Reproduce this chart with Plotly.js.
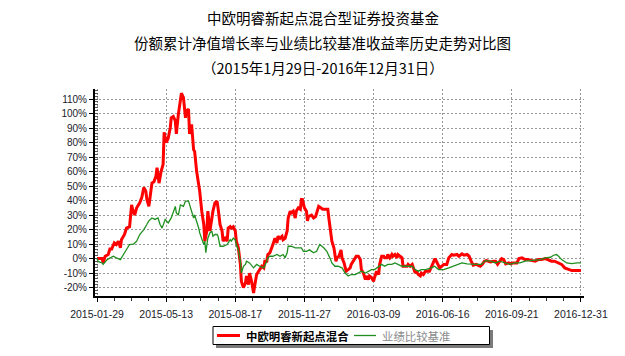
<!DOCTYPE html>
<html><head><meta charset="utf-8">
<script src="https://cdn.plot.ly/plotly-3.0.1.min.js"></script>
<style>html,body{margin:0;padding:0;background:#fff}#chart{width:625px;height:356px}</style>
</head><body><div id="chart"></div>
<script>
const titleLines = ['中欧明睿新起点混合型证券投资基金', '份额累计净值增长率与业绩比较基准收益率历史走势对比图', '（2015年1月29日-2016年12月31日）'];
const xTickIdx = [0, 68, 136, 204, 272, 340, 408, 476];
const xTickLabels = ['2015-01-29', '2015-05-13', '2015-08-17', '2015-11-27', '2016-03-09', '2016-06-16', '2016-09-21', '2016-12-31'];
const yTickVals = [-20, -10, 0, 10, 20, 30, 40, 50, 60, 70, 80, 90, 100, 110];
const yTickLabels = ['-20%', '-10%', '0%', '10%', '20%', '30%', '40%', '50%', '60%', '70%', '80%', '90%', '100%', '110%'];
const fundName = '中欧明睿新起点混合';
const benchName = '业绩比较基准';

// trading-day index and cumulative return (%)
const fundIdx = [0,5,6,8,11,13,14,17,19,21,23,24,27,29,32,34,35,37,39,42,44,46,48,49,51,54,56,58,59,61,63,65,66,68,70,72,73,75,77,78,80,82,83,85,87,88,90,91,93,95,96,98,100,101,103,105,106,108,109,111,113,114,116,118,119,121,123,124,126,128,129,131,132,134,136,137,139,141,142,144,146,147,149,150,152,154,155,157,159,160,162,164,165,167,168,170,172,173,175,177,178,180,182,183,185,187,188,190,191,193,195,196,198,200,201,202,204,206,207,208,211,213,215,218,220,222,224,227,228,230,231,233,235,236,238,240,241,243,245,247,249,250,252,255,257,259,260,262,264,265,267,268,270,272,273,275,277,278,280,282,283,285,286,288,290,291,293,295,296,298,300,301,303,305,306,308,310,311,313,314,316,318,319,321,323,324,327,330,332,333,335,337,339,341,344,346,349,351,354,356,359,361,364,366,368,370,373,377,379,381,383,387,390,392,394,396,398,400,402,405,407,409,413,415,418,421,424,428,431,434,437,441,444,447,450,454,457,460,464,467,470,473,476];
const fundPct = [0,0,-3,1.6,2.8,7.4,6,10.8,9.7,12,7.4,13,16.6,21,22,37,34,30,35,38.4,42,49,46.5,41,36,52,53,57,62.6,52,60,65,87,80,83,90,97,98,95,86,99.4,110,114,111,97,102,103,86,92.5,75,74,60,51,46.5,32.7,23.5,12,19,32.7,19,28,32.7,38.4,39.6,35,23.5,19,12,14,12,21,22,21,22,19,12,7.4,-4,-15.7,-20,-16.8,-12,-18,-10,-15.7,-23.7,-19,-11,-8.7,-7.6,-5.3,-6.4,-1.8,-1.8,2.8,4,7.4,9.7,14,10.8,15.4,14,15.4,13,14,19,28,32.7,31.5,32.7,28,32.7,35,34,40.7,40.7,35,32.7,26,29,30,28,29,36,35,34,34,34,28,19,12,7.4,-1.8,0.5,1.6,6,0.5,-3,-8.7,-7.6,-6.4,-4,-1.8,1.6,1.6,-0.7,-7.6,-10,-14.5,-12,-14.5,-12,-13,-15.7,-13,-8.7,-11,-4,1.6,1.6,0.5,0.5,2.8,0.5,2.8,1.6,2.8,0.5,2.8,1.6,0.5,-5.3,-5.3,-5.3,-4,-5.3,-4,-6.4,-10,-8.7,-11,-12,-10,-11,-8.7,-8.7,-8.7,-4,-0.7,-0.7,-4,-6.4,-5.3,-4,-4,0.5,2.8,2.3,2.8,1.6,3.2,2.3,2.8,1.6,-1.8,-4.6,-4,-5.3,-4,-1.8,-1.4,-2.3,-1.8,-1.8,-4,-1.8,0,-0.7,-3.7,-3,-3.7,-3,-3,0,0.5,-0.7,-0.7,-1.4,-1.8,-0.7,-0.7,0,-0.7,-1.8,-1.8,-3,-4,-6.4,-7.6,-8.3,-8.3,-8.3,-8.3];

const benchIdx = [0,1,5,6,10,13,16,19,23,26,29,32,36,39,42,46,49,51,54,57,60,62,64,67,70,73,77,78,80,82,85,87,90,91,93,95,96,98,100,101,103,105,106,107,109,111,113,114,116,118,119,121,124,128,131,132,134,136,137,139,141,142,144,146,147,150,154,157,160,164,167,168,170,173,177,180,183,185,187,188,191,195,198,201,203,206,209,213,216,219,223,226,229,231,234,237,241,244,247,250,254,257,260,264,267,270,273,277,280,283,286,290,293,296,300,303,306,310,313,316,319,323,329,332,336,341,346,350,355,359,364,368,373,378,382,387,392,396,401,406,411,416,421,426,431,436,441,446,449,452,454,457,462,467,472,476];
const benchPct = [0,-2,-3,-4,-0.7,0.5,1.6,0.5,-0.7,2.8,6,9.7,10,12,16.6,20,23.5,26,28,27,28,23.5,21,27,24.6,28,36,31.5,30,37,36,39.6,39.6,37,32.7,28,30,26,21,17.7,14,9.7,12,4,14,17.7,19,15.4,16.6,16.6,15.4,8.5,8.5,9.7,13,12,14,13,9.7,6,-1.8,-10,-5.3,-4,-1.8,-3,-6.4,-4,-5.3,-6.4,-1.8,0.5,1.6,1.6,2.8,1.6,2.8,0.5,4,8.5,8.5,7.4,7.4,7.4,5,5,6,4,5,9.7,7.4,5,0.5,-3,-5.3,-5.3,-6.4,-10,-12,-11,-11,-10,-8.7,-10,-8.7,-7.6,-7.6,-5.3,-4,-5.3,-4,-4,-3,-4,-5.3,-5.3,-5.3,-5.3,-7.6,-8.7,-7.6,-7.6,-6.4,-5.3,-7.6,-7.6,-6.4,-5.3,-4,-3,-3.7,-4,-4,-4,-1.4,-1.8,-3,-1.8,-3,-4,-3,-3,-1.8,-1.4,-0.7,-0.7,0.5,0.9,2.3,2.8,1.6,-0.7,-3,-3.5,-3,-3];

const fundColor = '#ff0000', benchColor = '#1f8f1f';

// plot-area pixel geometry
const W = 625, H = 356;
const plotL = 95, plotR = 584, plotT = 89, plotB = 296;
const pw = plotR - plotL, ph = plotB - plotT;
const px = v => (v - plotL) / pw;
const py = v => (plotB - v) / ph;

const cjk = '"Noto Sans CJK SC", "Noto Sans", sans-serif';
const arial = '"Liberation Sans", Arial, sans-serif';

const traces = [
  {x: fundIdx, y: fundPct, type: 'scatter', mode: 'lines', name: fundName,
   line: {color: fundColor, width: 3}},
  {x: benchIdx, y: benchPct, type: 'scatter', mode: 'lines', name: benchName,
   line: {color: benchColor, width: 1.3}}
];

const titleY = [17.5, 42.5, 67.5];
const annotations = titleLines.map((t, i) => ({
  text: t, xref: 'paper', yref: 'paper', x: px(322.5), y: py(titleY[i]),
  xanchor: 'center', yanchor: 'middle', showarrow: false,
  font: {family: cjk, size: 14.5, color: '#000'}
}));

// legend drawn as a framed box with a drop shadow
const legY = 335.5;
annotations.push(
  {text: '<b>' + fundName + '</b>', xref: 'paper', yref: 'paper', x: px(243.5), y: py(legY),
   xanchor: 'left', yanchor: 'middle', showarrow: false, font: {family: cjk, size: 11.4, color: '#000'}},
  {text: benchName, xref: 'paper', yref: 'paper', x: px(379.5), y: py(legY),
   xanchor: 'left', yanchor: 'middle', showarrow: false, font: {family: cjk, size: 11.4, color: '#8a8a8a'}}
);
const shapes = [
  {type: 'rect', xref: 'paper', yref: 'paper', layer: 'above', x0: px(216), x1: px(493), y0: py(348), y1: py(330),
   fillcolor: '#7a7a7a', line: {width: 0}},
  {type: 'rect', xref: 'paper', yref: 'paper', layer: 'above', x0: px(213), x1: px(489.5), y0: py(344.5), y1: py(326.5),
   fillcolor: '#ffffff', line: {color: '#000', width: 1}},
  {type: 'line', xref: 'paper', yref: 'paper', layer: 'above', x0: px(217), x1: px(240), y0: py(legY), y1: py(legY),
   line: {color: fundColor, width: 3}},
  {type: 'line', xref: 'paper', yref: 'paper', layer: 'above', x0: px(354), x1: px(376), y0: py(legY), y1: py(legY),
   line: {color: benchColor, width: 1.3}}
];

const layout = {
  width: W, height: H,
  margin: {l: plotL, r: W - plotR, t: plotT, b: H - plotB, pad: 0},
  paper_bgcolor: '#fff', plot_bgcolor: '#fff',
  showlegend: false,
  xaxis: {
    range: [-2, 479], tickmode: 'array', tickvals: xTickIdx, ticktext: xTickLabels,
    showgrid: true, gridcolor: '#999', griddash: '2px,2px', gridwidth: 1,
    showline: true, linecolor: '#000', linewidth: 2, zeroline: false,
    ticks: 'outside', ticklen: 4, tickcolor: '#000', tickwidth: 1,
    ticklabelstandoff: 3,
    tickfont: {family: arial, size: 10.5, color: '#1a1a2a'},
    minor: {tick0: 0, dtick: 17, ticks: 'outside', ticklen: 3, tickcolor: '#333', showgrid: false}
  },
  yaxis: {
    range: [-25.8, 116.9], tickmode: 'array', tickvals: yTickVals, ticktext: yTickLabels,
    showgrid: true, gridcolor: '#999', griddash: '2px,2px', gridwidth: 1,
    showline: true, linecolor: '#000', linewidth: 2, zeroline: false,
    ticks: 'outside', ticklen: 4, tickcolor: '#000', tickwidth: 1,
    tickfont: {family: arial, size: 10, color: '#1a1a2a'},
    minor: {tick0: 0, dtick: 2, ticks: 'inside', ticklen: 3, tickcolor: '#555', showgrid: false}
  },
  annotations: annotations,
  shapes: shapes
};

Plotly.newPlot('chart', traces, layout, {displayModeBar: false, staticPlot: true});
</script></body></html>
